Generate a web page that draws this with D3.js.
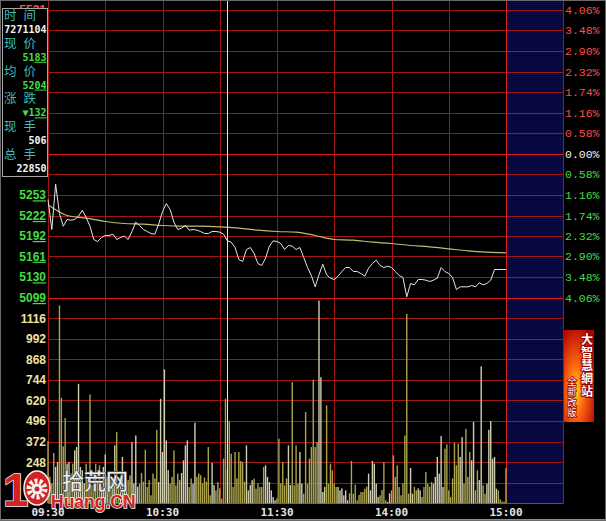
<!DOCTYPE html>
<html>
<head>
<meta charset="utf-8">
<title>分时走势</title>
<script src="https://d3js.org/d3.v7.min.js"></script>
<style>
  body { margin: 0; background: #000; }
  svg { display: block; }
</style>
</head>
<body>
<script>
var width = 606, height = 521;

// ---- values ----
var prevClose = 5315;
var priceTicks = [5531, 5500, 5469, 5438, 5407, 5376, 5346, 5315, 5284, 5253, 5222, 5192, 5161, 5130, 5099];
var pctTicks = ['4.06%', '3.48%', '2.90%', '2.32%', '1.74%', '1.16%', '0.58%', '0.00%',
                '0.58%', '1.16%', '1.74%', '2.32%', '2.90%', '3.48%', '4.06%'];
var volTicks = [1116, 992, 868, 744, 620, 496, 372, 248];
var timeLabels = ['09:30', '10:30', '11:30', '14:00', '15:00'];
var timeMinutes = [0, 60, 120, 180, 240];

// last price, one value every 2 minutes (trading minute 0..240)
var price = [
  5246, 5201, 5269, 5225, 5206, 5216, 5215, 5216, 5221, 5230,
  5219, 5206, 5186, 5183, 5189, 5192, 5192, 5194, 5186, 5189,
  5191, 5186, 5198, 5212, 5207, 5201, 5198, 5195, 5194, 5209,
  5228, 5240, 5231, 5212, 5201, 5203, 5207, 5200, 5201, 5200,
  5198, 5195, 5195, 5198, 5198, 5197, 5194, 5184, 5182, 5174,
  5156, 5153, 5171, 5174, 5165, 5150, 5147, 5158, 5176, 5184,
  5183, 5180, 5171, 5177, 5176, 5171, 5174, 5159, 5144, 5132,
  5115, 5133, 5149, 5133, 5128, 5126, 5131, 5138, 5144, 5144,
  5138, 5138, 5135, 5131, 5143, 5150, 5155, 5147, 5144, 5146,
  5144, 5138, 5132, 5129, 5100, 5120, 5118, 5126, 5126, 5125,
  5123, 5125, 5128, 5144, 5138, 5135, 5129, 5111, 5115, 5115,
  5115, 5117, 5115, 5121, 5118, 5120, 5125, 5141, 5141, 5141,
  5141
];

// average price, one value every 10 minutes
var avgPrice = [5238, 5222, 5218, 5213, 5210, 5209, 5207, 5206, 5206, 5205,
                5203, 5200, 5198, 5197, 5192, 5186, 5185, 5182, 5180, 5177,
                5175, 5172, 5169, 5167, 5166];

// volume, one bar per minute
var volume = [
  375, 160, 120, 303, 219, 249, 1192, 636, 343, 514,
  239, 249, 180, 239, 319, 339, 720, 219, 199, 120,
  239, 140, 656, 110, 159, 239, 130, 229, 100, 219,
  295, 159, 120, 139, 150, 349, 429, 110, 159, 279,
  90, 118, 140, 168, 369, 120, 409, 100, 118, 182,
  130, 323, 98, 140, 48, 179, 150, 443, 128, 630,
  309, 807, 379, 200, 118, 159, 319, 108, 179, 140,
  182, 259, 349, 379, 98, 150, 118, 486, 159, 179,
  169, 120, 155, 130, 339, 48, 243, 110, 78, 128,
  90, 28, 269, 630, 200, 496, 299, 98, 309, 150,
  309, 255, 249, 130, 349, 78, 110, 139, 149, 88,
  120, 98, 98, 219, 229, 159, 128, 78, 38, 18,
  30, 389, 120, 249, 108, 150, 349, 110, 730, 108,
  349, 118, 309, 118, 58, 550, 118, 269, 339, 744,
  339, 369, 1222, 760, 68, 98, 590, 118, 239, 199,
  120, 98, 98, 78, 90, 48, 78, 18, 60, 255,
  58, 112, 18, 50, 68, 68, 88, 100, 179, 78,
  255, 239, 118, 38, 48, 80, 249, 18, 8, 60,
  78, 289, 159, 229, 98, 48, 120, 409, 1142, 58,
  213, 58, 98, 78, 90, 78, 38, 98, 189, 118,
  100, 128, 118, 159, 279, 179, 405, 98, 329, 355,
  78, 38, 150, 365, 229, 359, 279, 399, 118, 449,
  159, 309, 259, 490, 78, 199, 140, 825, 108, 58,
  118, 443, 496, 269, 279, 88, 78, 24, 10, 10,
  213
];

var infoNames = ['时间', '现价', '均价', '涨跌', '现手', '总手'];
var infoValues = ['7271104', '5183', '5204', '▼132', '506', '22850'];
var cursorMinute = 94;
var badgeTitle = '大智慧網站';
var badgeSub = '全新改版';

// ---- layout ----
var green = '#44dd44', red = '#ff4c4c', grid = '#a01616', gridHot = '#e41c1c';
var boxBottom = 176.5;

var x = d3.scaleLinear().domain([0, 240]).range([48, 506]);
var yP = d3.scaleLinear().domain([5099, 5531]).range([297.5, 9.5]);
var yV = d3.scaleLinear().domain([0, 1240]).range([503.3, 297.5]);
var px = function(v) { return Math.round(v) + 0.5; };

var svg = d3.select('body').append('svg')
  .attr('width', width)
  .attr('height', height);

svg.append('rect').attr('width', width).attr('height', height).attr('fill', '#000');

// dotted navy band after the close
var defs = svg.append('defs');
var pat = defs.append('pattern').attr('id', 'dots')
  .attr('width', 2).attr('height', 2).attr('patternUnits', 'userSpaceOnUse');
pat.append('rect').attr('width', 2).attr('height', 2).attr('fill', '#07072c');
pat.append('rect').attr('width', 1).attr('height', 1).attr('fill', '#13134c');

svg.append('rect')
  .attr('x', x(240)).attr('y', 0)
  .attr('width', 563 - x(240)).attr('height', yV(0))
  .attr('fill', 'url(#dots)');

// grid
var g = svg.append('g');
g.selectAll('.hp')
  .data(priceTicks)
  .enter().append('line')
  .attr('x1', 48).attr('x2', 563)
  .attr('y1', function(d) { return px(yP(d)); })
  .attr('y2', function(d) { return px(yP(d)); })
  .attr('stroke', function(d) { return d === prevClose ? gridHot : grid; });

g.selectAll('.hv')
  .data(d3.range(0, 1240, 124))
  .enter().append('line')
  .attr('x1', 48).attr('x2', 563)
  .attr('y1', function(d) { return px(yV(d)); })
  .attr('y2', function(d) { return px(yV(d)); })
  .attr('stroke', function(d) { return d === 0 ? gridHot : grid; });

g.append('line')
  .attr('x1', 48).attr('x2', 563)
  .attr('y1', px(yV(1240))).attr('y2', px(yV(1240)))
  .attr('stroke', gridHot);

g.selectAll('.vt')
  .data(d3.range(0, 241, 30))
  .enter().append('line')
  .attr('x1', function(d) { return px(x(d)); })
  .attr('x2', function(d) { return px(x(d)); })
  .attr('y1', 0).attr('y2', px(yV(0)))
  .attr('stroke', function(d) { return d === 240 ? gridHot : grid; });

g.append('line')
  .attr('x1', 563.5).attr('x2', 563.5)
  .attr('y1', 0).attr('y2', px(yV(0)))
  .attr('stroke', grid);

// volume bars
svg.append('g').selectAll('rect')
  .data(volume)
  .enter().append('rect')
  .attr('x', function(d, i) { return x(i) - 0.7; })
  .attr('width', 1.4)
  .attr('y', function(d) { return yV(d); })
  .attr('height', function(d) { return yV(0) - yV(d); })
  .attr('fill', function(d, i) {
    var k = Math.floor(i / 2);
    return (k > 0 && price[k] > price[k - 1]) ? '#cfcdb0' : '#aaa34c';
  });

// average and price lines
svg.append('path')
  .datum(avgPrice)
  .attr('fill', 'none')
  .attr('stroke', '#bdbd72')
  .attr('stroke-width', 1.2)
  .attr('d', d3.line()
    .x(function(d, i) { return x(i * 10); })
    .y(function(d) { return yP(d); })
    .curve(d3.curveMonotoneX));

svg.append('path')
  .datum(price)
  .attr('fill', 'none')
  .attr('stroke', '#e6e6e6')
  .attr('stroke-width', 1)
  .attr('d', d3.line()
    .x(function(d, i) { return x(i * 2); })
    .y(function(d) { return yP(d); }));

// cursor
svg.append('line')
  .attr('x1', px(x(cursorMinute))).attr('x2', px(x(cursorMinute)))
  .attr('y1', 0).attr('y2', yV(0))
  .attr('stroke', '#e8e8e8');

// right percent labels
svg.append('g').selectAll('text')
  .data(pctTicks)
  .enter().append('text')
  .attr('x', 565)
  .attr('y', function(d, i) { return yP(priceTicks[i]) + 4; })
  .attr('font-family', 'Liberation Mono, monospace')
  .attr('font-size', '11.5px')
  .attr('fill', function(d, i) {
    return priceTicks[i] > prevClose ? red : (priceTicks[i] === prevClose ? '#f4f4f4' : green);
  })
  .text(function(d) { return d; });

// left price labels (the info box hides the upper ones), last two digits underlined
var pl = svg.append('g').selectAll('text')
  .data(priceTicks.filter(function(d, i) { return i === 0 || yP(d) > boxBottom + 4; }))
  .enter().append('text')
  .attr('x', 46)
  .attr('y', function(d) { return yP(d) + 4.5; })
  .attr('text-anchor', 'end')
  .attr('font-family', 'Liberation Sans, Arial, sans-serif')
  .attr('font-weight', 'bold')
  .attr('font-size', '12px')
  .attr('fill', function(d) { return d > prevClose ? red : (d === prevClose ? '#f4f4f4' : green); });
pl.append('tspan').text(function(d) { return String(d).slice(0, 2); });
pl.append('tspan').attr('text-decoration', 'underline').text(function(d) { return String(d).slice(2); });

// volume labels
svg.append('g').selectAll('text')
  .data(volTicks)
  .enter().append('text')
  .attr('x', 46)
  .attr('y', function(d) { return yV(d) + 4.5; })
  .attr('text-anchor', 'end')
  .attr('font-family', 'Liberation Sans, Arial, sans-serif')
  .attr('font-weight', 'bold')
  .attr('font-size', '12px')
  .attr('fill', '#ece3a4')
  .text(function(d) { return d; });

// time axis
svg.append('g').selectAll('text')
  .data(timeLabels)
  .enter().append('text')
  .attr('x', function(d, i) { return x(timeMinutes[i]); })
  .attr('y', 516)
  .attr('text-anchor', 'middle')
  .attr('font-family', 'DejaVu Sans Mono, monospace')
  .attr('font-weight', 'bold')
  .attr('font-size', '11px')
  .attr('fill', '#e4e4e4')
  .text(function(d) { return d; });

svg.append('line')
  .attr('x1', 0).attr('x2', width)
  .attr('y1', 519.5).attr('y2', 519.5)
  .attr('stroke', '#8a8a8a');

// info box
var box = svg.append('g');
box.append('rect')
  .attr('x', 2.5).attr('y', 8.5)
  .attr('width', 45).attr('height', boxBottom - 8.5)
  .attr('fill', '#000')
  .attr('stroke', '#a8a8a8');

box.selectAll('.nm')
  .data(infoNames)
  .enter().append('text')
  .attr('x', 4)
  .attr('y', function(d, i) { return 20 + i * 27.8; })
  .attr('font-family', 'Noto Sans CJK SC, sans-serif')
  .attr('font-size', '12.5px')
  .attr('letter-spacing', '7px')
  .attr('fill', '#3cbcbc')
  .text(function(d) { return d; });

var iv = box.selectAll('.val')
  .data(infoValues)
  .enter().append('text')
  .attr('x', 46.5)
  .attr('y', function(d, i) { return 33 + i * 27.8; })
  .attr('text-anchor', 'end')
  .attr('font-family', 'DejaVu Sans Mono, monospace')
  .attr('font-weight', 'bold')
  .attr('font-size', '10px')
  .attr('fill', function(d, i) { return (i >= 1 && i <= 3) ? green : '#f4f4f4'; });
iv.append('tspan').text(function(d, i) { return (i >= 1 && i <= 3) ? d.slice(0, d.length - 2) : d; });
iv.append('tspan').attr('text-decoration', 'underline')
  .text(function(d, i) { return (i >= 1 && i <= 3) ? d.slice(d.length - 2) : ''; });

// badge on the right
var grad = defs.append('radialGradient').attr('id', 'badge')
  .attr('cx', '40%').attr('cy', '65%').attr('r', '75%');
grad.append('stop').attr('offset', '0%').attr('stop-color', '#ffd21a');
grad.append('stop').attr('offset', '35%').attr('stop-color', '#ff6a10');
grad.append('stop').attr('offset', '100%').attr('stop-color', '#b00000');

svg.append('rect')
  .attr('x', 564).attr('y', 330)
  .attr('width', 30).attr('height', 92)
  .attr('fill', 'url(#badge)');

svg.append('text')
  .attr('x', 587).attr('y', 333)
  .style('writing-mode', 'vertical-rl')
  .attr('font-family', 'Noto Sans CJK SC, sans-serif')
  .attr('font-weight', 'bold')
  .attr('font-size', '12px')
  .attr('letter-spacing', '1px')
  .attr('fill', '#fff')
  .attr('stroke', '#8a0000')
  .attr('stroke-width', 2)
  .attr('paint-order', 'stroke')
  .text(badgeTitle);

svg.append('text')
  .attr('x', 572).attr('y', 377)
  .style('writing-mode', 'vertical-rl')
  .attr('font-family', 'Noto Sans CJK SC, sans-serif')
  .attr('font-size', '9px')
  .attr('letter-spacing', '1.5px')
  .attr('fill', '#fff')
  .attr('stroke', '#a00000')
  .attr('stroke-width', 1.5)
  .attr('paint-order', 'stroke')
  .text(badgeSub);

// watermark logo, bottom left
var logo = svg.append('g');
logo.append('text')
  .attr('x', 3).attr('y', 506)
  .attr('font-family', 'Liberation Sans, Arial, sans-serif')
  .attr('font-weight', 'bold')
  .attr('font-size', '46px')
  .attr('fill', '#d42222')
  .attr('stroke', '#f2f2f2')
  .attr('stroke-width', 1.5)
  .attr('paint-order', 'stroke')
  .text('1');

logo.append('ellipse')
  .attr('cx', 37).attr('cy', 488).attr('rx', 13).attr('ry', 17)
  .attr('fill', '#d42222').attr('stroke', '#f2f2f2').attr('stroke-width', 1.5);
logo.append('circle')
  .attr('cx', 37).attr('cy', 489).attr('r', 8)
  .attr('fill', 'none').attr('stroke', '#f4f4f4')
  .attr('stroke-width', 5).attr('stroke-dasharray', '3,2');
logo.append('circle')
  .attr('cx', 37).attr('cy', 489).attr('r', 5.5).attr('fill', '#f4f4f4');
logo.append('circle')
  .attr('cx', 37).attr('cy', 489).attr('r', 2.5).attr('fill', '#d42222');

logo.append('text')
  .attr('x', 62).attr('y', 489)
  .attr('font-family', 'Noto Sans CJK SC, sans-serif')
  .attr('font-size', '22px')
  .attr('fill', '#f0f0f0')
  .attr('stroke', '#555')
  .attr('stroke-width', 1.5)
  .attr('paint-order', 'stroke')
  .text('拾荒网');

logo.append('text')
  .attr('x', 51).attr('y', 508)
  .attr('font-family', 'Liberation Sans, Arial, sans-serif')
  .attr('font-weight', 'bold')
  .attr('font-size', '17.5px')
  .attr('fill', '#d42222')
  .attr('stroke', '#f2f2f2')
  .attr('stroke-width', 1.5)
  .attr('paint-order', 'stroke')
  .text('Huang.CN');

// outer frame
svg.append('rect')
  .attr('x', 0.5).attr('y', 0.5)
  .attr('width', width - 1).attr('height', height - 1)
  .attr('fill', 'none')
  .attr('stroke', '#6a6a6a');
</script>
</body>
</html>
